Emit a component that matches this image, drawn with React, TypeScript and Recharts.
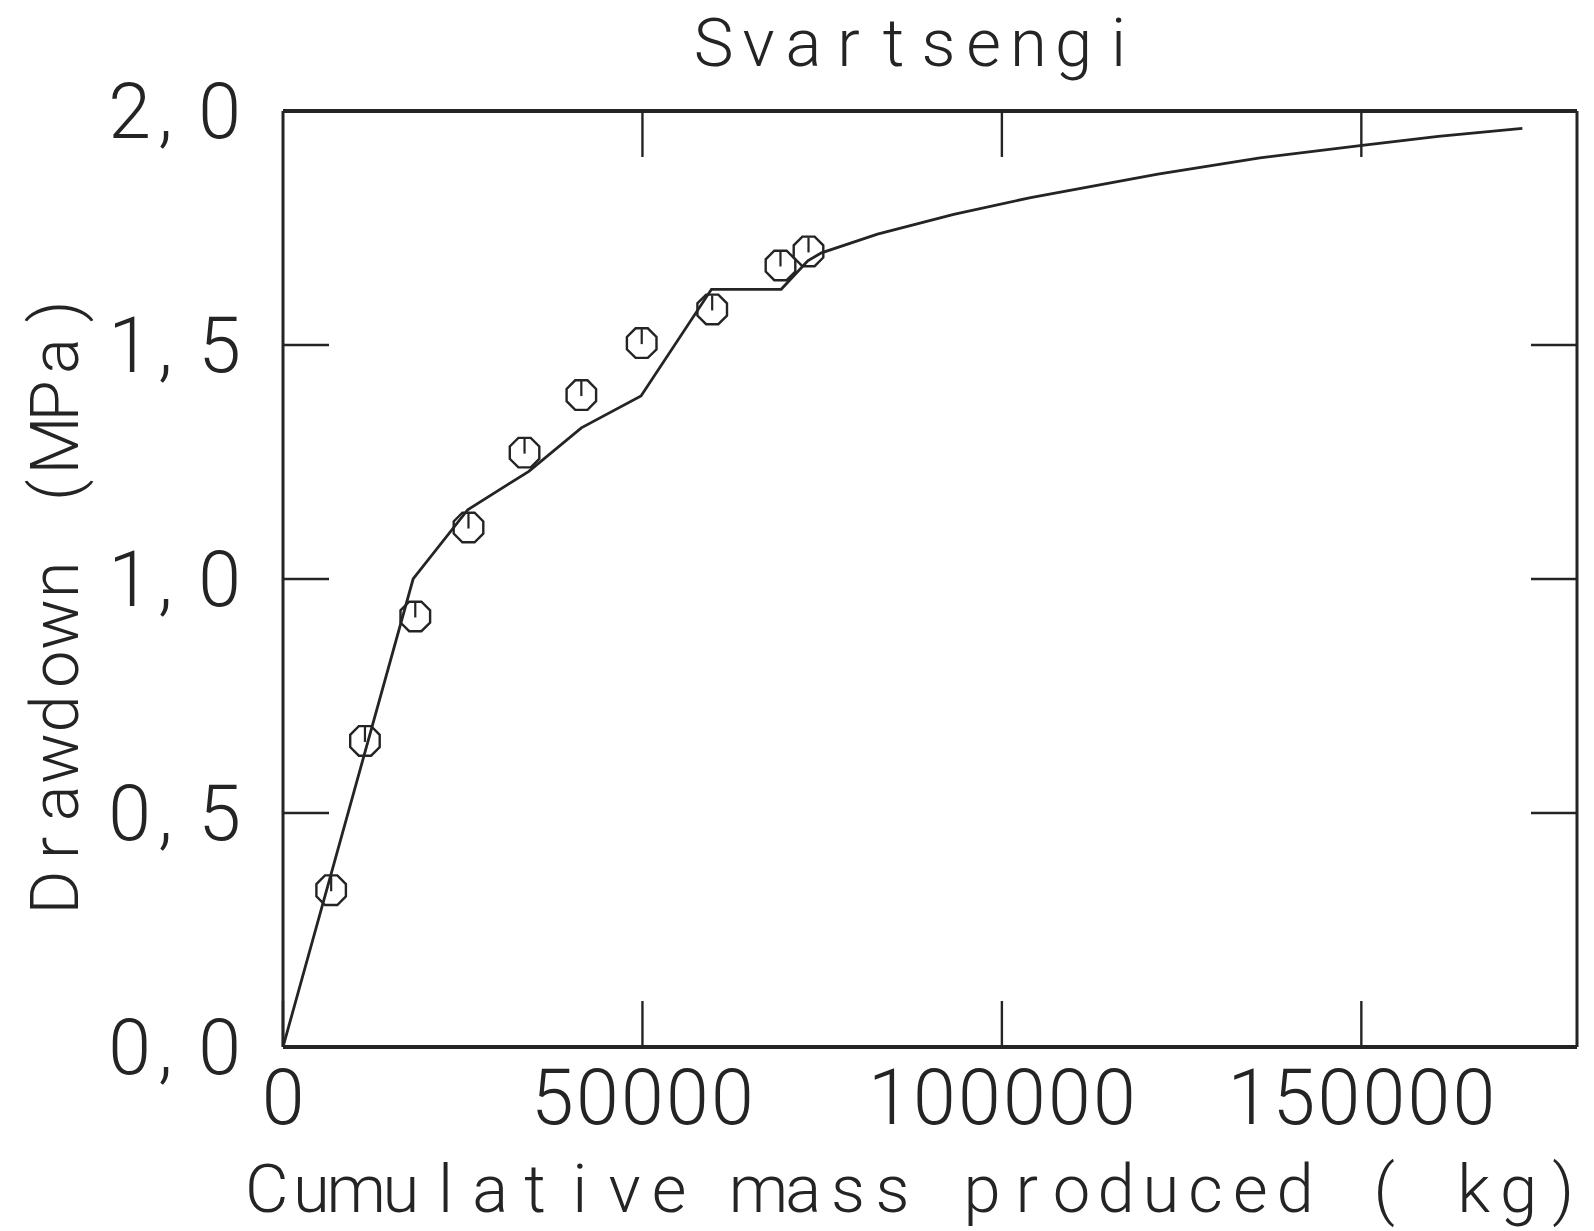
import { ComposedChart, Line, Scatter, XAxis, YAxis } from "recharts";

// axis ticks
const massTicks = [0, 50000, 100000, 150000];
const drawdownTicks = [0, 0.5, 1, 1.5, 2];

// model curve (kg, MPa)
const modelMass = [
  0, 18100, 25700, 34200, 41500, 49800, 59600, 69300, 73000, 74900, 82700,
  93300, 104000, 121700, 135900, 150400, 160700, 172400,
];
const modelDrawdown = [
  0, 1.0, 1.148, 1.23, 1.323, 1.391, 1.619, 1.619, 1.68, 1.697, 1.737, 1.779,
  1.815, 1.865, 1.9, 1.927, 1.946, 1.963,
];

// measured points
const obsMass = [
  6700, 11400, 18400, 25800, 33600, 41500, 49900, 59700, 69200, 73100,
];
const obsDrawdown = [
  0.335, 0.654, 0.92, 1.11, 1.27, 1.393, 1.504, 1.576, 1.67, 1.7,
];

const modelData = modelMass.map((m, i) => ({ mass: m, drawdown: modelDrawdown[i] }));
const obsData = obsMass.map((m, i) => ({ mass: m, drawdown: obsDrawdown[i] }));

const INK = "#242424";
const FONT = 'Roboto, "Liberation Sans", sans-serif';
const TICK_FONT = 77;
const LABEL_FONT = 67;
const PITCH = 45;
const TICK_LEN = 46;

const fmtDrawdown = (v: number) => v.toFixed(1).replace(".", ",");

// plotter-style lettering: every character sits in its own fixed-width cell
function MonoText({ text, cx, y, pitch = PITCH, size = LABEL_FONT }: any) {
  const chars = String(text).split("");
  const n = chars.length;
  const xs = chars.map((c, i) => {
    const shift = c === "," ? -9 : 0;
    return (cx + (i - (n - 1) / 2) * pitch + shift).toFixed(1);
  });
  return (
    <text
      x={xs.join(" ")}
      y={y}
      textAnchor="middle"
      fontFamily={FONT}
      fontWeight={300}
      fontSize={size}
      fill={INK}
      style={{ whiteSpace: "pre" }}
    >
      {text}
    </text>
  );
}

function BottomTick({ x, y, payload }: any) {
  return (
    <g>
      <line x1={x} y1={y} x2={x} y2={y - TICK_LEN} stroke={INK} strokeWidth={2.4} />
      <MonoText text={String(payload.value)} cx={x} y={y + 77} size={TICK_FONT} />
    </g>
  );
}

function TopTick({ x, y }: any) {
  return <line x1={x} y1={y} x2={x} y2={y + TICK_LEN} stroke={INK} strokeWidth={2.4} />;
}

function LeftTick({ x, y, payload }: any) {
  const label = fmtDrawdown(payload.value);
  const width = label.length * PITCH;
  return (
    <g>
      <line x1={x} y1={y} x2={x + TICK_LEN} y2={y} stroke={INK} strokeWidth={2.4} />
      <MonoText text={label} cx={x - 41 - width / 2} y={y + 27} size={TICK_FONT} />
    </g>
  );
}

function RightTick({ x, y }: any) {
  return <line x1={x} y1={y} x2={x - TICK_LEN} y2={y} stroke={INK} strokeWidth={2.4} />;
}

// octagon marker with a short vertical stroke
function Octagon({ cx, cy }: any) {
  const r = 16;
  const pts = Array.from({ length: 8 }, (_, k) => {
    const a = ((22.5 + 45 * k) * Math.PI) / 180;
    return `${(cx + r * Math.cos(a)).toFixed(1)},${(cy + r * Math.sin(a)).toFixed(1)}`;
  }).join(" ");
  return (
    <g>
      <polygon points={pts} fill="none" stroke={INK} strokeWidth={2.4} />
      <line x1={cx} y1={cy - 14} x2={cx} y2={cy + 1} stroke={INK} strokeWidth={2.2} />
    </g>
  );
}

export default function App() {
  return (
    <div
      style={{
        position: "absolute",
        left: 0,
        top: 0,
        width: 1594,
        height: 1231,
        background: "#fff",
      }}
    >
      <ComposedChart
        width={1594}
        height={1231}
        margin={{ top: 110, right: 16, bottom: 0, left: 0 }}
      >
        <XAxis
          dataKey="mass"
          type="number"
          domain={[0, 180000]}
          ticks={massTicks}
          allowDataOverflow
          height={184}
          tickSize={0}
          tickMargin={0}
          tickLine={false}
          axisLine={{ stroke: INK, strokeWidth: 4 }}
          tick={<BottomTick />}
        />
        <XAxis
          xAxisId="top"
          orientation="top"
          dataKey="mass"
          type="number"
          domain={[0, 180000]}
          ticks={massTicks.slice(1)}
          allowDataOverflow
          height={1}
          tickSize={0}
          tickMargin={0}
          tickLine={false}
          axisLine={{ stroke: INK, strokeWidth: 4 }}
          tick={<TopTick />}
        />
        <YAxis
          dataKey="drawdown"
          type="number"
          domain={[0, 2]}
          ticks={drawdownTicks}
          allowDataOverflow
          width={283}
          tickSize={0}
          tickMargin={0}
          tickLine={false}
          axisLine={{ stroke: INK, strokeWidth: 3 }}
          tick={<LeftTick />}
        />
        <YAxis
          yAxisId="right"
          orientation="right"
          dataKey="drawdown"
          type="number"
          domain={[0, 2]}
          ticks={drawdownTicks.slice(1, 4)}
          allowDataOverflow
          width={1}
          tickSize={0}
          tickMargin={0}
          tickLine={false}
          axisLine={{ stroke: INK, strokeWidth: 3 }}
          tick={<RightTick />}
        />
        {/* invisible copy so the mirrored frame axes have a series */}
        <Line
          data={modelData}
          dataKey="drawdown"
          xAxisId="top"
          yAxisId="right"
          stroke="none"
          dot={false}
          activeDot={false}
          legendType="none"
          isAnimationActive={false}
        />
        <Line
          data={modelData}
          dataKey="drawdown"
          type="linear"
          stroke={INK}
          strokeWidth={2.8}
          dot={false}
          activeDot={false}
          isAnimationActive={false}
        />
        <Scatter
          data={obsData}
          dataKey="drawdown"
          shape={<Octagon />}
          isAnimationActive={false}
        />
      </ComposedChart>

      {/* title and axis titles */}
      <svg
        width={1594}
        height={1231}
        style={{ position: "absolute", left: 0, top: 0, pointerEvents: "none" }}
      >
        <MonoText text="Svartsengi" cx={916} y={66} />
        <MonoText text="Cumulative mass produced ( kg)" cx={915} y={1212} pitch={44.7} />
        <g transform="rotate(-90 78 602)">
          <MonoText text="Drawdown (MPa)" cx={78} y={602} pitch={44.7} />
        </g>
      </svg>
    </div>
  );
}
